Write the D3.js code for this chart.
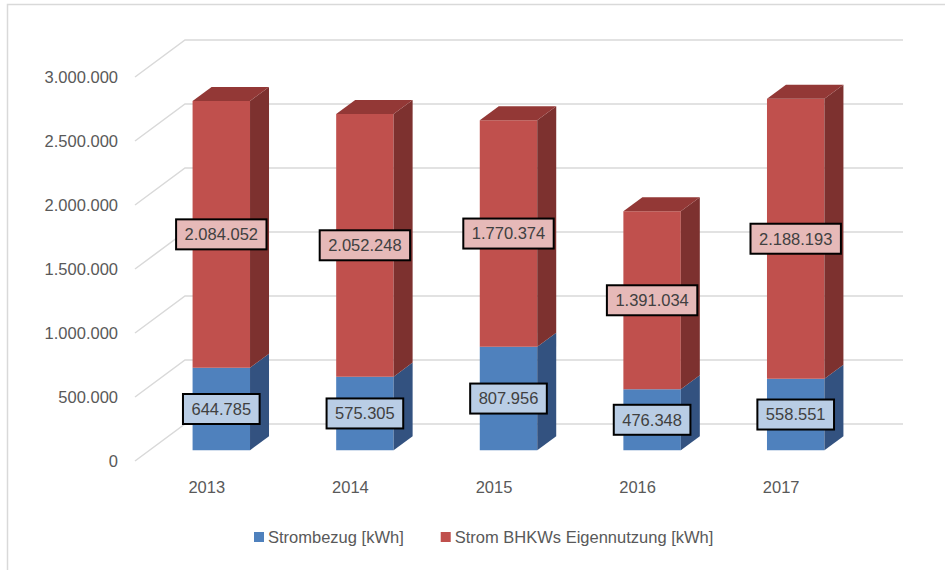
<!DOCTYPE html>
<html>
<head>
<meta charset="utf-8">
<script src="https://cdn.jsdelivr.net/npm/d3@7/dist/d3.min.js"></script>
<style>
  html, body { margin: 0; padding: 0; background: #ffffff; }
  svg { display: block; font-family: "Liberation Sans", Arial, sans-serif; }
</style>
</head>
<body>
<svg id="chart" width="945" height="570"></svg>
<script>
const years = ["2013", "2014", "2015", "2016", "2017"];
const strombezug = [644785, 575305, 807956, 476348, 558551];
const bhkw = [2084052, 2052248, 1770374, 1391034, 2188193];
const yTicks = [0, 500000, 1000000, 1500000, 2000000, 2500000, 3000000];
const seriesNames = ["Strombezug [kWh]", "Strom BHKWs Eigennutzung [kWh]"];

const colors = [
  { front: "#4f81bd", side: "#335280", top: "#3d6597", label: "#b9cde5" },
  { front: "#c0504d", side: "#7d312f", top: "#933836", label: "#e6b9b8" }
];

const FS = 16.5;
const svg = d3.select("#chart");
const fmt = v => d3.format(",")(v).replace(/,/g, ".");

// Oblique 3D projection
const DX = 50, DY = -37;            // full depth offset
const Z0 = 0.29, Z1 = 0.67;         // bar depth range
const x = d3.scaleBand().domain(years).range([135, 853]).paddingInner(0.6).paddingOuter(0.3);
const y = d3.scaleLinear().domain([0, 3000000]).range([461, 77]);
const P = (px, v, z) => [px + z * DX, y(v) + z * DY];

// outer border
svg.append("path").attr("d", "M7.5,570 L7.5,4.5 L945,4.5")
  .attr("fill", "none").attr("stroke", "#d9d9d9").attr("stroke-width", 1.5);

// gridlines (side wall + back wall)
const xLeft = x.range()[0], xRight = x.range()[1];
svg.append("g").selectAll("path").data(yTicks).join("path")
  .attr("d", t => {
    const a = P(xLeft, t, 0), b = P(xLeft, t, 1), c = P(xRight, t, 1);
    return `M${a}L${b}L${c}`;
  })
  .attr("fill", "none").attr("stroke", "#d9d9d9").attr("stroke-width", 1.5);

// y axis labels
svg.append("g").selectAll("text").data(yTicks).join("text")
  .attr("x", 118).attr("y", t => y(t)).attr("dy", "0.35em")
  .attr("text-anchor", "end").attr("fill", "#595959").attr("font-size", FS)
  .text(t => fmt(t));

// x axis labels
svg.append("g").selectAll("text").data(years).join("text")
  .attr("x", d => x(d) + x.bandwidth() / 2).attr("y", 487).attr("dy", "0.35em")
  .attr("text-anchor", "middle").attr("fill", "#595959").attr("font-size", FS)
  .text(d => d);

// stacked data
const stacks = years.map((yr, i) => {
  const segs = [];
  let base = 0;
  [strombezug[i], bhkw[i]].forEach((v, s) => {
    segs.push({ year: yr, s, v0: base, v1: base + v, value: v });
    base += v;
  });
  return segs;
});

const bars = svg.append("g");
const poly = pts => "M" + pts.map(p => p.join(",")).join("L") + "Z";
stacks.forEach((segs, i) => {
  const x0 = x(years[i]), x1 = x0 + x.bandwidth();
  segs.forEach((d, k) => {
    const c = colors[d.s];
    bars.append("path").attr("d", poly([P(x0, d.v0, Z0), P(x1, d.v0, Z0), P(x1, d.v1, Z0), P(x0, d.v1, Z0)]))
      .attr("fill", c.front);
    bars.append("path").attr("d", poly([P(x1, d.v0, Z0), P(x1, d.v0, Z1), P(x1, d.v1, Z1), P(x1, d.v1, Z0)]))
      .attr("fill", c.side);
    if (k === segs.length - 1) {
      bars.append("path").attr("d", poly([P(x0, d.v1, Z0), P(x1, d.v1, Z0), P(x1, d.v1, Z1), P(x0, d.v1, Z1)]))
        .attr("fill", c.top);
    }
  });
});

// data labels
const labels = svg.append("g");
stacks.flat().forEach(d => {
  const cx = x(d.year) + x.bandwidth() / 2 + Z0 * DX;
  const cy = y((d.v0 + d.v1) / 2) + Z0 * DY;
  const g = labels.append("g");
  const t = g.append("text").attr("x", cx).attr("y", cy).attr("dy", "0.35em")
    .attr("text-anchor", "middle").attr("fill", "#404040").attr("font-size", FS)
    .text(fmt(d.value));
  const w = t.node().getComputedTextLength();
  g.insert("rect", "text")
    .attr("x", cx - w / 2 - 8.5).attr("y", cy - 15).attr("width", w + 17).attr("height", 30)
    .attr("fill", colors[d.s].label).attr("stroke", "#000").attr("stroke-width", 2);
});

// legend
const legend = svg.append("g");
let lx = 254;
seriesNames.forEach((name, s) => {
  legend.append("rect").attr("x", lx).attr("y", 532).attr("width", 10).attr("height", 10)
    .attr("fill", colors[s].front);
  const t = legend.append("text").attr("x", lx + 14).attr("y", 537).attr("dy", "0.35em")
    .attr("fill", "#595959").attr("font-size", FS).text(name);
  lx += 14 + t.node().getComputedTextLength() + 37;
});
</script>
</body>
</html>
